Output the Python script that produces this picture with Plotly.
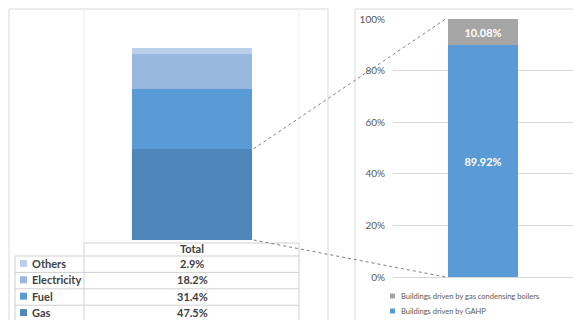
import plotly.graph_objects as go

# ---- data ----
left_categories = ["Total"]
energy_sources = ["Gas", "Fuel", "Electricity", "Others"]
energy_shares = [47.5, 31.4, 18.2, 2.9]
energy_labels = ["47.5%", "31.4%", "18.2%", "2.9%"]

right_categories = ["Total"]
building_series = ["Buildings driven by GAHP", "Buildings driven by gas condensing boilers"]
building_shares = [89.92, 10.08]
building_labels = ["89.92%", "10.08%"]

y2_ticks = [0, 20, 40, 60, 80, 100]
y2_ticktext = ["0%", "20%", "40%", "60%", "80%", "100%"]

# ---- styles ----
W, H = 573, 320
energy_colors = {"Gas": "#4F87BA", "Fuel": "#5B9BD5", "Electricity": "#98B8E0", "Others": "#B9CFEA"}
building_colors = ["#5B9BD5", "#A5A5A5"]
border = "#D9D9D9"
txt = "#404040"
FONT = "Lato"


def px(x):
    return x / W


def py(y):
    return 1 - y / H


xdom1 = [px(84), px(300)]
ydom1 = [py(240), py(48)]
xdom2 = [px(393), 1.0]
ydom2 = [py(277), py(19)]
bw1 = 0.555
bw2 = 0.39

fig = go.Figure()

for name, val in zip(energy_sources, energy_shares):
    fig.add_trace(go.Bar(x=left_categories, y=[val], name=name, width=bw1,
                         marker=dict(color=energy_colors[name], line=dict(width=0)),
                         xaxis="x", yaxis="y", showlegend=False, hoverinfo="skip"))

for name, val, lab, col in zip(building_series, building_shares, building_labels, building_colors):
    fig.add_trace(go.Bar(x=right_categories, y=[val], name=name, width=bw2,
                         marker=dict(color=col, line=dict(width=0)),
                         text=[lab], textposition="inside", insidetextanchor="middle",
                         textfont=dict(color="white", size=11, family=FONT, weight="bold"),
                         textangle=0,
                         xaxis="x2", yaxis="y2", showlegend=False, hoverinfo="skip"))

fig.update_layout(
    template="none",
    width=W, height=H, margin=dict(l=0, r=0, t=0, b=0, autoexpand=False),
    paper_bgcolor="white", plot_bgcolor="white",
    barmode="stack", bargap=0, showlegend=False,
    font=dict(family=FONT, color=txt),
    xaxis=dict(domain=xdom1, range=[-0.5, 0.5], visible=False, type="category"),
    yaxis=dict(domain=ydom1, range=[0, 100], visible=False),
    xaxis2=dict(domain=xdom2, range=[-0.5, 0.5], visible=False, anchor="y2", type="category"),
    yaxis2=dict(domain=ydom2, range=[0, 100], anchor="x2", tickvals=y2_ticks, ticktext=y2_ticktext,
                showgrid=True, gridcolor=border, gridwidth=1, zeroline=True, zerolinecolor=border,
                zerolinewidth=1, showline=False, ticks="", ticklabelstandoff=7, automargin=False,
                tickfont=dict(size=10, color="#595959", family=FONT)),
    uniformtext=dict(minsize=8, mode="show"),
)

shapes = []
annotations = []

# chart borders
shapes.append(dict(type="line", xref="paper", yref="paper", x0=px(9), x1=px(328), y0=py(9), y1=py(9),
                   line=dict(color=border, width=1)))
shapes.append(dict(type="line", xref="paper", yref="paper", x0=px(9), x1=px(9), y0=py(9), y1=0,
                   line=dict(color=border, width=1)))
shapes.append(dict(type="line", xref="paper", yref="paper", x0=px(328), x1=px(328), y0=py(9), y1=0,
                   line=dict(color=border, width=1)))
shapes.append(dict(type="line", xref="paper", yref="paper", x0=px(355), x1=1, y0=py(9), y1=py(9),
                   line=dict(color=border, width=1)))
shapes.append(dict(type="line", xref="paper", yref="paper", x0=px(355), x1=px(355), y0=py(9), y1=0,
                   line=dict(color=border, width=1)))

# left plot faint vertical lines
for xv in (84, 299):
    shapes.append(dict(type="line", xref="paper", yref="paper", x0=px(xv), x1=px(xv), y0=py(9), y1=py(243),
                       line=dict(color="#EFEFEF", width=1)))

# data table
tcol = "#D0D0D0"
row_top = 256
row_h = 16.4
n = len(energy_sources)
shapes.append(dict(type="line", xref="paper", yref="paper", x0=px(84), x1=px(299), y0=py(243), y1=py(243),
                   line=dict(color=tcol, width=1)))
for i in range(n):
    yv = row_top + i * row_h
    shapes.append(dict(type="line", xref="paper", yref="paper", x0=px(15), x1=px(299), y0=py(yv), y1=py(yv),
                       line=dict(color=tcol, width=1)))
shapes.append(dict(type="line", xref="paper", yref="paper", x0=px(15), x1=px(15), y0=py(row_top), y1=0,
                   line=dict(color=tcol, width=1)))
for xv in (84, 299):
    shapes.append(dict(type="line", xref="paper", yref="paper", x0=px(xv), x1=px(xv), y0=py(243), y1=0,
                       line=dict(color=tcol, width=1)))

annotations.append(dict(xref="paper", yref="paper", x=(xdom1[0] + xdom1[1]) / 2, y=py(248.5),
                        text=left_categories[0], showarrow=False, xanchor="center", yanchor="middle",
                        font=dict(size=11, color=txt, family=FONT, weight="bold")))

table_order = list(reversed(range(n)))  # Others, Electricity, Fuel, Gas
for r, idx in enumerate(table_order):
    yc = row_top + r * row_h + row_h / 2 - 0.8
    name = energy_sources[idx]
    shapes.append(dict(type="rect", xref="paper", yref="paper", x0=px(20), x1=px(27),
                       y0=py(yc - 3.5), y1=py(yc + 3.5), fillcolor=energy_colors[name], line=dict(width=0)))
    annotations.append(dict(xref="paper", yref="paper", x=px(30), y=py(yc), text=name, showarrow=False,
                            xanchor="left", yanchor="middle",
                            font=dict(size=11, color=txt, family=FONT, weight="bold")))
    annotations.append(dict(xref="paper", yref="paper", x=(xdom1[0] + xdom1[1]) / 2, y=py(yc),
                            text=energy_labels[idx], showarrow=False, xanchor="center", yanchor="middle",
                            font=dict(size=11, color=txt, family=FONT, weight="bold")))

# right legend
leg_items = [(building_series[1], building_colors[1], 296), (building_series[0], building_colors[0], 311)]
for name, col, yc in leg_items:
    shapes.append(dict(type="rect", xref="paper", yref="paper", x0=px(390), x1=px(395),
                       y0=py(yc - 2.5), y1=py(yc + 2.5), fillcolor=col, line=dict(width=0)))
    annotations.append(dict(xref="paper", yref="paper", x=px(399), y=py(yc), text=name, showarrow=False,
                            xanchor="left", yanchor="middle",
                            font=dict(size=7.5, color="#595959", family=FONT)))

# connector dashed lines computed from data
def xpaper(dom, xv):
    return dom[0] + (xv + 0.5) * (dom[1] - dom[0])


def ypaper(dom, yv):
    return dom[0] + yv / 100 * (dom[1] - dom[0])


lx = xpaper(xdom1, bw1 / 2) + 0.003
rx = xpaper(xdom2, -bw2 / 2) - 0.004
shapes.append(dict(type="line", xref="paper", yref="paper", x0=lx, y0=ypaper(ydom1, energy_shares[0]),
                   x1=rx, y1=ypaper(ydom2, 100), line=dict(color="#7F7F7F", width=1, dash="dot")))
shapes.append(dict(type="line", xref="paper", yref="paper", x0=lx, y0=ypaper(ydom1, 0),
                   x1=rx, y1=ypaper(ydom2, 0), line=dict(color="#7F7F7F", width=1, dash="dot")))

fig.update_layout(shapes=shapes, annotations=annotations)
fig.write_html("out.html")
